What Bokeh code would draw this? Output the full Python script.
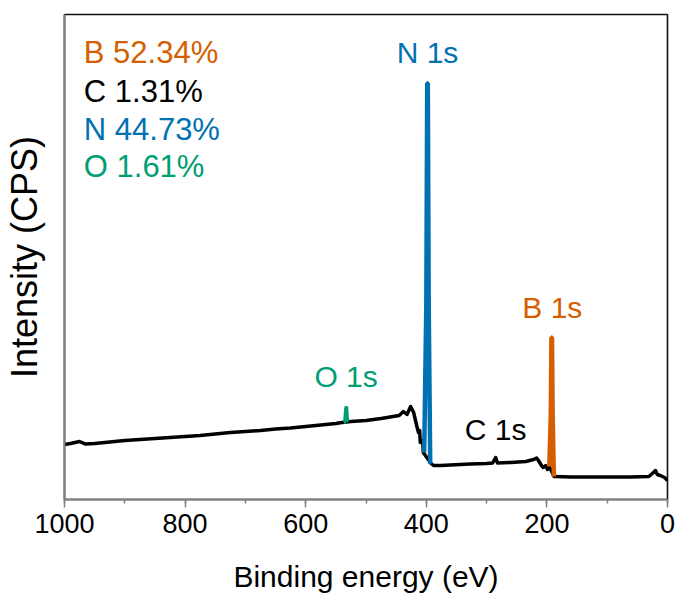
from bokeh.plotting import figure
from bokeh.models import Range1d, SingleIntervalTicker, FixedTicker
from bokeh.core.properties import value
from bokeh.embed import file_html
from bokeh.resources import INLINE

# XPS survey spectrum of BN: background trace (binding energy in eV, intensity in a.u.)
bg_energy = [1000, 990, 975, 965, 950, 925, 900, 875, 850, 825, 800, 775, 750, 725,
             700, 675, 650, 625, 600, 575, 550, 540, 525, 500, 475, 460, 445, 438,
             432, 426, 421, 416, 413, 411, 410, 406, 405, 392, 388, 376, 360, 327,
             300, 290, 285, 282, 260, 235, 222, 217, 214, 209, 206, 202, 199, 196,
             188, 186, 161, 111, 61, 31, 25, 20, 17, 12, 5, 0]
bg_intensity = [11.34, 11.55, 11.96, 11.44, 11.55, 11.86, 12.16, 12.37, 12.58, 12.78,
                12.99, 13.20, 13.51, 13.81, 14.02, 14.23, 14.54, 14.74, 15.05, 15.36,
                15.67, 15.88, 16.08, 16.29, 16.70, 17.01, 17.32, 18.15, 17.53, 19.18,
                17.94, 15.26, 13.81, 14.23, 11.75, 12.16, 9.69, 7.42, 7.01, 7.01,
                7.11, 7.32, 7.42, 7.53, 8.66, 7.53, 7.63, 7.84, 8.25, 8.56, 8.04,
                7.01, 6.60, 7.01, 6.19, 6.80, 4.74, 4.74, 4.64, 4.64, 4.64, 4.74,
                5.36, 5.98, 5.15, 4.95, 4.54, 3.92]

# Core-level peaks
n1s_energy = [403.5, 400, 398.5, 397.5, 396, 393.5]
n1s_intensity = [9.69, 40.0, 85.8, 85.8, 40.0, 7.4]
b1s_energy = [196, 193.5, 192.5, 191.5, 190.5, 188.5]
b1s_intensity = [6.8, 18.0, 33.4, 33.4, 18.0, 4.74]
o1s_energy = [537, 535, 533.5, 532.5, 531, 529]
o1s_intensity = [15.9, 16.0, 18.6, 19.2, 16.3, 16.1]

# Atomic composition
elements = ["B", "C", "N", "O"]
atomic_percent = ["52.34%", "1.31%", "44.73%", "1.61%"]

ORANGE = "#D55E00"
BLUE = "#0072B2"
GREEN = "#009E73"
BLACK = "#000000"
element_colors = [ORANGE, BLACK, BLUE, GREEN]

FONT = "Liberation Sans"

p = figure(width=676, height=599, output_backend="svg", toolbar_location=None,
           x_range=Range1d(1000, 0), y_range=Range1d(0, 100))
p.min_border_left = 64
p.min_border_right = 9
p.min_border_top = 14
p.min_border_bottom = 100
p.background_fill_color = "white"
p.border_fill_color = "white"
p.outline_line_color = "#111111"
p.outline_line_width = 1.6
p.grid.visible = False

# Spectrum
p.line(bg_energy, bg_intensity, line_color=BLACK, line_width=3.5, line_join="round")
p.line(o1s_energy, o1s_intensity, line_color=GREEN, line_width=3.5)
p.line(n1s_energy, n1s_intensity, line_color=BLUE, line_width=4.5)
p.line(b1s_energy, b1s_intensity, line_color=ORANGE, line_width=4.5)

# Peak labels
p.text(x=[398, 191, 533, 285], y=[92.1, 39.6, 25.3, 14.5],
       text=["N 1s", "B 1s", "O 1s", "C 1s"],
       text_color=[BLUE, ORANGE, GREEN, BLACK],
       text_font=value(FONT), text_font_size="30px",
       text_align="center", text_baseline="middle")

# Composition table
comp_text = [f"{e} {v}" for e, v in zip(elements, atomic_percent)]
p.text(x=[968] * 4, y=[92.1, 84.1, 76.3, 68.7], text=comp_text,
       text_color=element_colors, text_font=value(FONT), text_font_size="31px",
       text_align="left", text_baseline="middle")

# X axis
xa = p.xaxis[0]
xa.ticker = SingleIntervalTicker(interval=200, num_minor_ticks=2)
xa.axis_label = "Binding energy (eV)"
xa.axis_label_text_font = FONT
xa.axis_label_text_font_style = "normal"
xa.axis_label_text_font_size = "30px"
xa.axis_label_text_color = BLACK
xa.axis_label_standoff = 24
xa.major_label_text_font = FONT
xa.major_label_text_font_size = "27px"
xa.major_label_text_color = BLACK
xa.major_label_standoff = 6
xa.axis_line_color = "#808080"
xa.axis_line_width = 2
xa.major_tick_line_color = "#808080"
xa.minor_tick_line_color = "#808080"
xa.major_tick_line_width = 1.5
xa.minor_tick_line_width = 1.5
xa.major_tick_out = 8
xa.major_tick_in = 0
xa.minor_tick_out = 4
xa.minor_tick_in = 0

# Y axis: label only, no ticks
ya = p.yaxis[0]
ya.ticker = FixedTicker(ticks=[])
ya.axis_label = "Intensity (CPS)"
ya.axis_label_text_font = FONT
ya.axis_label_text_font_style = "normal"
ya.axis_label_text_font_size = "36px"
ya.axis_label_text_color = BLACK
ya.axis_label_standoff = 20
ya.major_tick_line_color = None
ya.minor_tick_line_color = None
ya.axis_line_color = "#808080"
ya.axis_line_width = 2

open("out.html", "w").write(file_html(p, INLINE))
